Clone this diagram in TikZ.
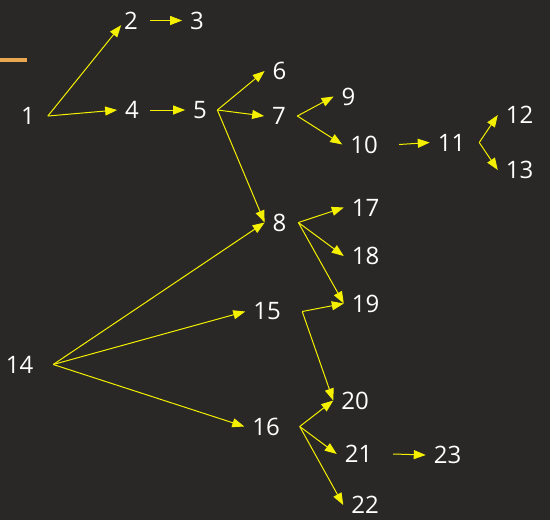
\documentclass[tikz,border=0pt]{standalone}
\usepackage{fontspec}
\setmainfont{Open Sans}
\usetikzlibrary{arrows.meta}
\definecolor{mybg}{RGB}{41,40,38}
\definecolor{myyellow}{RGB}{245,240,0}
\definecolor{myorange}{RGB}{232,168,80}
\tikzset{>=stealth, font=\fontsize{24}{28}\selectfont}

\begin{document}
\begin{tikzpicture}[
  x=1pt, y=-1pt,
  num/.style={
    text=white,
    inner sep=0pt,
    outer sep=0pt
  },
  link/.style={
    draw=myyellow,
    line width=1pt,
    -{Triangle[length=12pt,width=9pt]}
  }
]
%the background
\fill[mybg] (0,0) rectangle (550,520);
\fill[myorange] (0,58) rectangle (27,62);

%the numbers
\node[num] (n1) at (28,116) {1};
\node[num] (n2) at (131,20.5) {2};
\node[num] (n3) at (197,20.5) {3};
\node[num] (n4) at (132,110) {4};
\node[num] (n5) at (200,110) {5};
\node[num] (n6) at (279.5,71) {6};
\node[num] (n7) at (279,116) {7};
\node[num] (n8) at (279.5,222.5) {8};
\node[num] (n9) at (348.5,96.5) {9};
\node[num] (n10) at (364,144.5) {10};
\node[num] (n11) at (451.5,142.5) {11};
\node[num] (n12) at (519.5,115) {12};
\node[num] (n13) at (519.5,170) {13};
\node[num] (n14) at (19.5,364.5) {14};
\node[num] (n15) at (267,311.5) {15};
\node[num] (n16) at (266,426.5) {16};
\node[num] (n17) at (365.5,207.5) {17};
\node[num] (n18) at (365.5,256) {18};
\node[num] (n19) at (365.5,303.5) {19};
\node[num] (n20) at (355,400.5) {20};
\node[num] (n21) at (358.5,454) {21};
\node[num] (n22) at (365,505) {22};
\node[num] (n23) at (447.5,455) {23};

%the arrows
\draw[link] ([xshift=13pt]n1.east) -- ([shift={(-3pt,4pt)}]n2.south west);
\foreach \src/\dst/\gap in {1/4/13, 2/3/12, 4/5/11, 5/6/10.5, 5/7/10.5, 5/8/10.5,
  7/9/11.5, 7/10/11.5, 10/11/21.5, 11/12/14, 11/13/14, 8/17/12, 8/18/12, 8/19/12,
  14/8/20, 14/15/20, 14/16/20, 15/19/21.5, 15/20/21.5, 16/20/20, 16/21/20,
  16/22/20, 21/23/21}
  \draw[link] ([xshift=\gap pt]n\src.east) -- ([xshift=-8pt]n\dst.west);

\end{tikzpicture}
\end{document}
